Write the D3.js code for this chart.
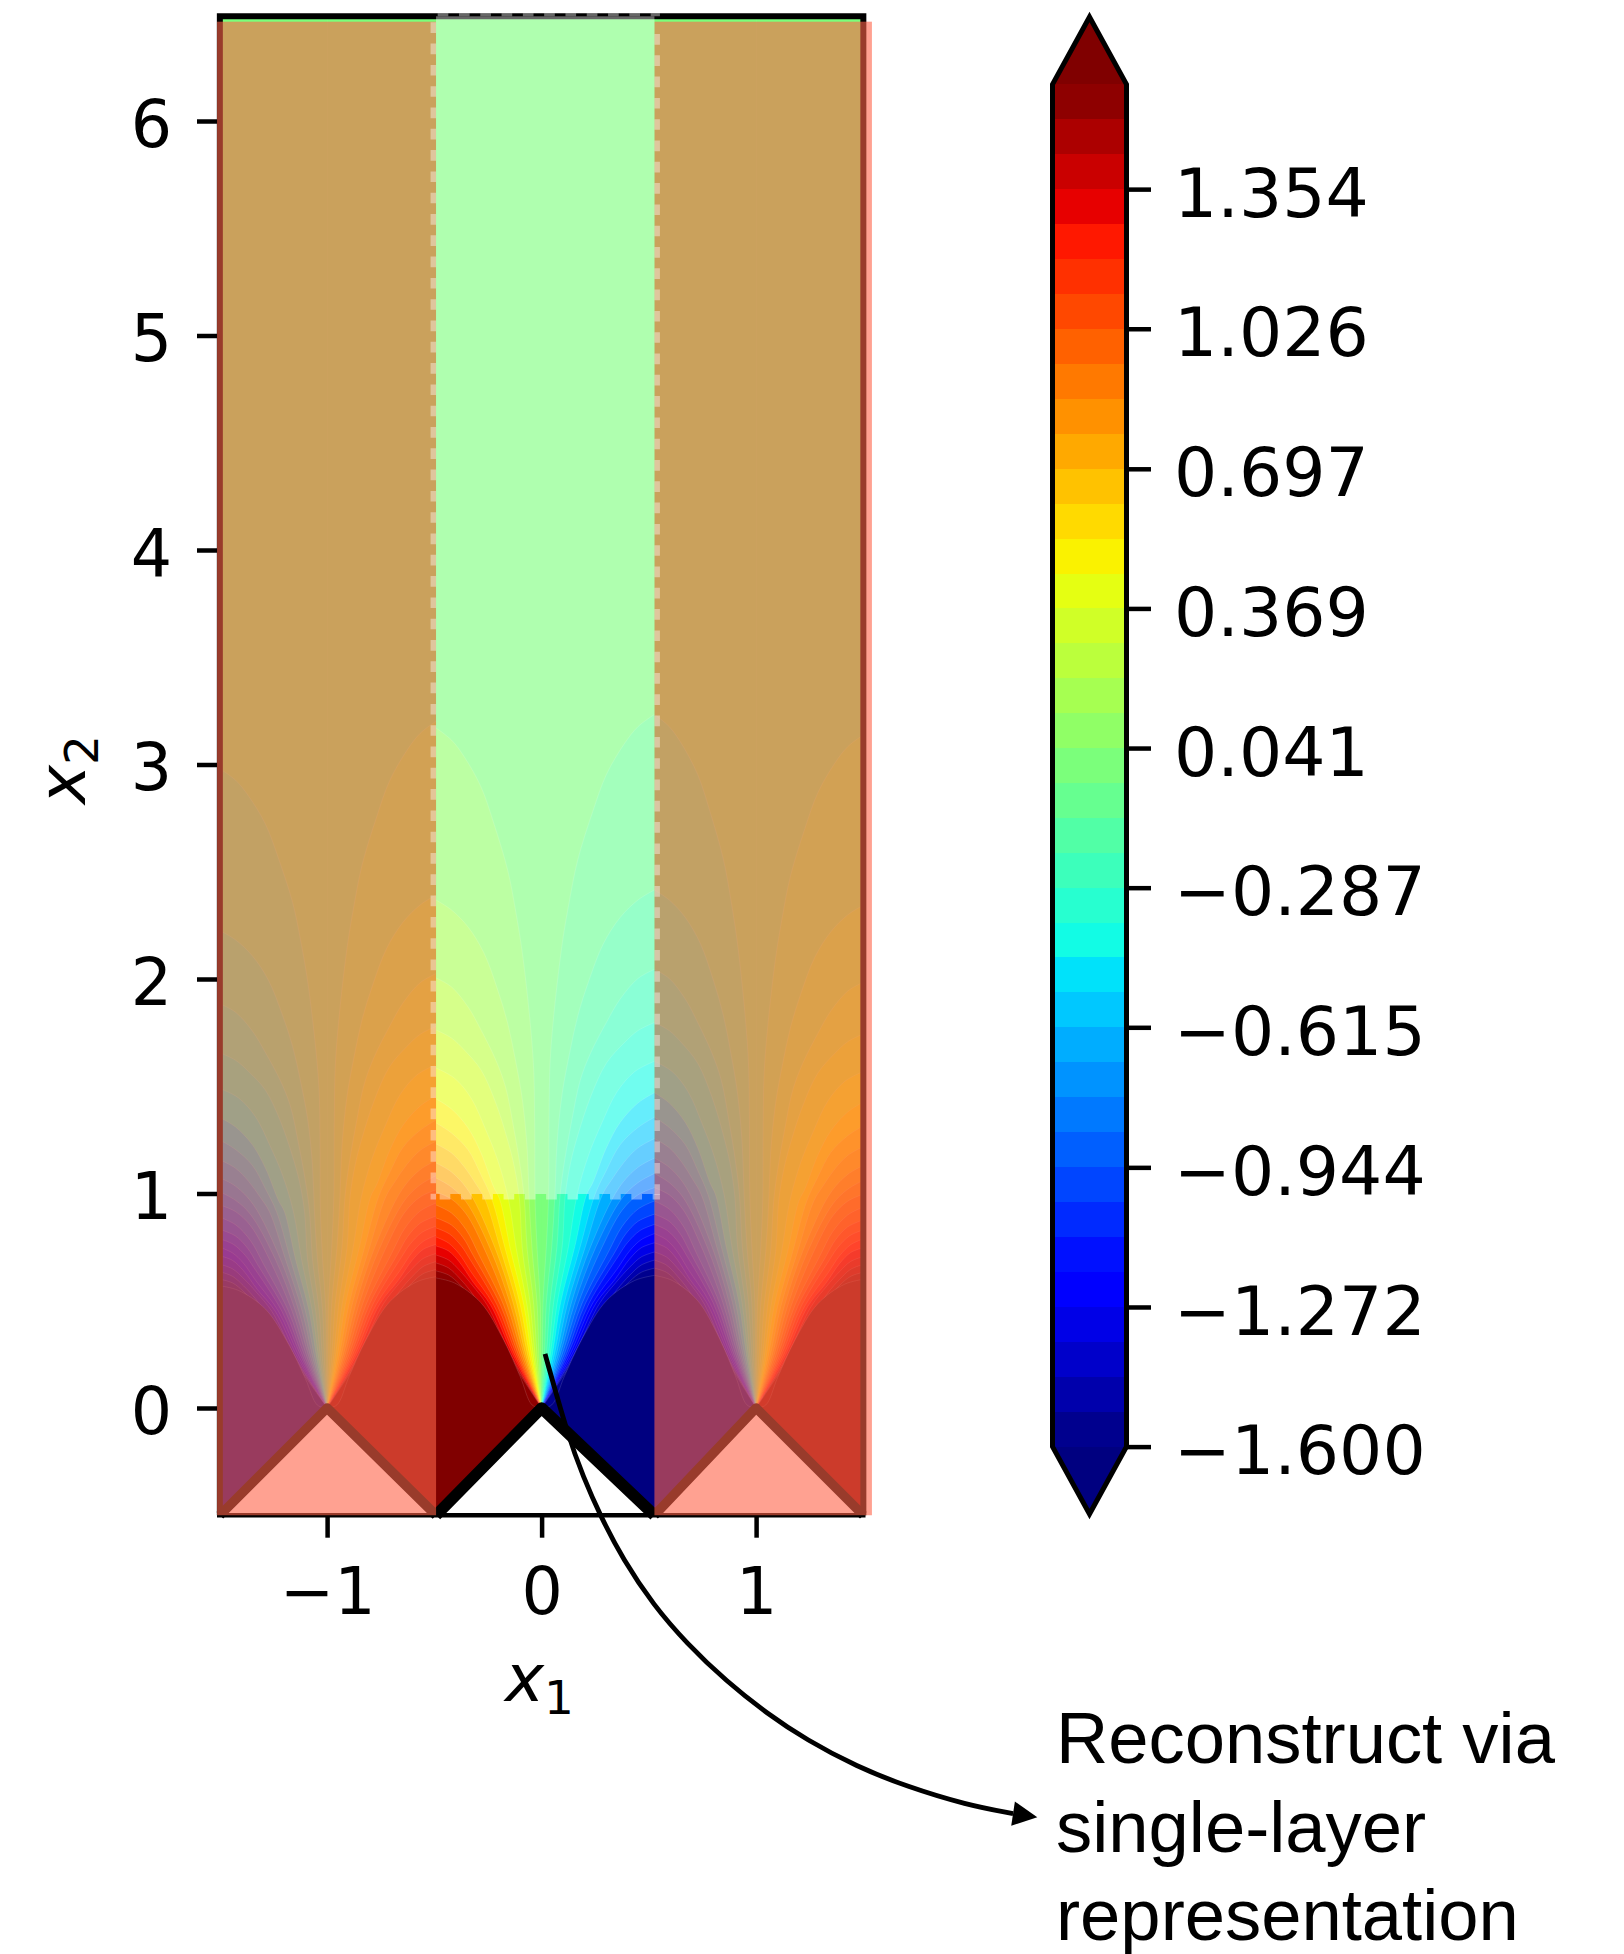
<!DOCTYPE html>
<html>
<head>
<meta charset="utf-8">
<title>Reconstruct via single-layer representation</title>
<script src="https://cdn.jsdelivr.net/npm/d3@7"></script>
<style>
  html, body { margin: 0; padding: 0; background: #fff; }
  svg { display: block; }
  text { font-family: "DejaVu Sans", sans-serif; fill: #000; }
</style>
</head>
<body>
<div id="chart"></div>
<script>
"use strict";

// Contour levels of the field, lowest to highest
var levels = [
  -1.600, -1.518, -1.436, -1.354, -1.272, -1.190, -1.108, -1.026, -0.944, -0.862,
  -0.779, -0.697, -0.615, -0.533, -0.451, -0.369, -0.287, -0.205, -0.123, -0.041,
   0.041,  0.123,  0.205,  0.287,  0.369,  0.451,  0.533,  0.615,  0.697,  0.779,
   0.862,  0.944,  1.026,  1.108,  1.190,  1.272,  1.354,  1.436,  1.518,  1.600
];
var colorbarTicks = [-1.600, -1.272, -0.944, -0.615, -0.287, 0.041, 0.369, 0.697, 1.026, 1.354];
var xTicks = [-1, 0, 1];
var yTicks = [0, 1, 2, 3, 4, 5, 6];
var noteLines = ['Reconstruct via', 'single-layer', 'representation'];

// matplotlib jet, as break points per channel
var jetRed = [[0, 0], [0.35, 0], [0.66, 1], [0.89, 1], [1, 0.5]];
var jetGreen = [[0, 0], [0.125, 0], [0.375, 1], [0.64, 1], [0.91, 0], [1, 0]];
var jetBlue = [[0, 0.5], [0.11, 1], [0.34, 1], [0.65, 0], [1, 0]];

// Pairs are [distance from the apex as a share of half a cell width * 0.5, x2],
// running from the cell edge down to the apex.
var contourArches = [
  [[.500, 3.170], [.427, 3.114], [.366, 3.035], [.287, 2.895], [.227, 2.727], [.161, 2.508], [.124, 2.322], [.087, 2.089], [.040, 1.622], [.033, 1.319], [.031, .974], [.021, .737], [.006, .480], [.004, .247], [0, 0]],
  [[.500, 2.368], [.427, 2.322], [.348, 2.242], [.273, 2.121], [.208, 1.949], [.161, 1.795], [.124, 1.622], [.091, 1.436], [.068, 1.203], [.059, .974], [.045, .737], [.021, .480], [.013, .247], [0, 0]],
  [[.500, 2.005], [.427, 1.963], [.348, 1.869], [.287, 1.762], [.217, 1.622], [.171, 1.497], [.133, 1.310], [.101, 1.124], [.082, .974], [.068, .737], [.037, .480], [.022, .247], [0, 0]],
  [[.500, 1.762], [.427, 1.725], [.366, 1.669], [.287, 1.576], [.217, 1.422], [.161, 1.249], [.129, 1.124], [.105, .974], [.091, .737], [.053, .480], [.031, .247], [0, 0]],
  [[.500, 1.585], [.413, 1.538], [.334, 1.445], [.264, 1.296], [.208, 1.156], [.157, .974], [.119, .737], [.069, .480], [.039, .247], [0, 0]],
  [[.500, 1.441], [.427, 1.394], [.348, 1.305], [.287, 1.189], [.227, 1.030], [.199, .974], [.147, .737], [.084, .480], [.048, .247], [0, 0]],
  [[.500, 1.329], [.427, 1.282], [.348, 1.203], [.287, 1.086], [.236, .974], [.171, .737], [.101, .480], [.057, .247], [0, 0]],
  [[.500, 1.231], [.427, 1.189], [.366, 1.124], [.311, 1.044], [.269, .974], [.194, .737], [.116, .480], [.066, .247], [0, 0]],
  [[.500, 1.142], [.427, 1.100], [.343, 1.007], [.217, .737], [.132, .480], [.075, .247], [0, 0]],
  [[.500, 1.072], [.427, 1.030], [.357, .960], [.241, .737], [.147, .480], [.083, .247], [0, 0]],
  [[.500, 1.007], [.427, .974], [.357, .904], [.269, .737], [.163, .480], [.092, .247], [0, 0]],
  [[.500, .946], [.427, .909], [.357, .830], [.296, .713], [.180, .480], [.101, .247], [0, 0]],
  [[.500, .886], [.427, .853], [.371, .793], [.325, .713], [.195, .480], [.110, .247], [0, 0]],
  [[.500, .839], [.436, .811], [.380, .755], [.343, .699], [.211, .480], [.118, .247], [0, 0]],
  [[.500, .797], [.441, .769], [.390, .718], [.334, .634], [.227, .480], [.127, .247], [0, 0]],
  [[.500, .755], [.441, .732], [.390, .681], [.325, .587], [.242, .480], [.136, .247], [0, 0]],
  [[.500, .713], [.441, .690], [.390, .643], [.329, .573], [.258, .480], [.145, .247], [0, 0]],
  [[.500, .676], [.441, .653], [.390, .606], [.334, .541], [.273, .448], [.153, .247], [0, 0]],
  [[.500, .639], [.441, .620], [.390, .578], [.334, .513], [.287, .443], [.162, .247], [0, 0]],
  [[.500, .606], [.413, .583], [.287, .490], [.180, .317], [.101, .145], [.045, .014], [0, 0]]
];

// The three cells are not quite equal: their edges in x1
var cellEdges = [-1.5, -0.492, 0.526, 1.5];

// The six half cells: apex position, which edge, sign of the field, height stretch
var cellApex = [-1, -1, 0, 0, 1, 1];
var cellEdge = [-1.5, -0.492, -0.492, 0.526, 0.526, 1.5];
var cellSign = [-1, 1, 1, -1, -1, 1];
var cellStretch = [0.94, 1.01, 1, 1.02, 1.02, 0.99];

// Annotation curve in data units
var arrowCurve = [
  [.016, .252], [.124, -.134], [.194, -.320], [.272, -.499], [.381, -.709],
  [.521, -.918], [.676, -1.097], [.863, -1.276], [1.049, -1.423], [1.236, -1.548],
  [1.469, -1.672], [1.702, -1.765], [1.982, -1.851], [2.198, -1.891]
];
var arrowTip = [2.311, -1.908];

var width = 1624;
var height = 1954;

var svg = d3.select('#chart')
  .append('svg')
    .attr('width', width)
    .attr('height', height)
    .attr('viewBox', '0 0 ' + width + ' ' + height);

var x = d3.scaleLinear().domain([-1.5, 1.5]).range([219.85, 863.35]);
var y = d3.scaleLinear().domain([-0.5, 6.5]).range([1515.25, 13.75]);
var domainTop = 6.488;
var overlayTop = 6.463;

var channel = function (stops) {
  return d3.scaleLinear().domain(stops.map(function (d) { return d[0]; })).range(stops.map(function (d) { return d[1]; }));
};
var red = channel(jetRed);
var green = channel(jetGreen);
var blue = channel(jetBlue);

var jet = function (t) {
  return d3.rgb(red(t) * 255, green(t) * 255, blue(t) * 255).formatRgb();
};

var valueToJet = d3.scaleLinear().domain([-1.6, 1.6]).range([0, 1]);
var underColor = jet(0);
var overColor = jet(1);

// Colour of the band between levels[i] and levels[i + 1], extended past both ends
var bandColor = function (i) {
  if (i < 0) return underColor;
  if (i >= levels.length - 1) return overColor;
  return jet(valueToJet((levels[i] + levels[i + 1]) / 2));
};

svg.append('defs').append('clipPath')
    .attr('id', 'field-clip')
  .append('rect')
    .attr('x', x(-1.5))
    .attr('y', y(domainTop))
    .attr('width', x(1.5) - x(-1.5))
    .attr('height', y(-0.5) - y(domainTop));


// Field: each half cell is painted from the outer band inwards

var field = svg.append('g').attr('clip-path', 'url(#field-clip)');

var archLine = d3.line()
  .x(function (d) { return d[0]; })
  .y(function (d) { return d[1]; })
  .curve(d3.curveCatmullRom.alpha(0.5));

var drawHalfCell = function (index) {
  var apex = cellApex[index];
  var edge = cellEdge[index];
  var sign = cellSign[index];
  var stretch = cellStretch[index];
  var spread = (edge - apex) / 0.5;

  field.append('rect')
    .attr('x', Math.min(x(apex), x(edge)))
    .attr('y', y(domainTop))
    .attr('width', Math.abs(x(edge) - x(apex)) + 0.5)
    .attr('height', y(-0.5) - y(domainTop))
    .attr('fill', bandColor(19));

  contourArches.forEach(function (arch, k) {
    var points = arch.map(function (d) {
      return [x(apex + spread * d[0]), y(d[1] * stretch)];
    });
    var corners = ' L' + x(apex) + ',' + y(-0.5) + ' L' + x(edge) + ',' + y(-0.5) + ' Z';
    var band = sign > 0 ? 20 + k : 18 - k;

    field.append('path')
      .attr('d', archLine(points) + corners)
      .attr('fill', bandColor(band));

    field.append('path')
      .attr('d', archLine(points))
      .attr('fill', 'none')
      .attr('stroke', '#fff')
      .attr('stroke-opacity', 0.18)
      .attr('stroke-width', 0.7);
  });
};

d3.range(cellApex.length).forEach(drawHalfCell);


// Domain boundary

var plainLine = d3.line()
  .x(function (d) { return x(d[0]); })
  .y(function (d) { return y(d[1]); });

xTicks.forEach(function (apex, i) {
  var outline = [[cellEdges[i], -0.5], [apex, 0], [cellEdges[i + 1], -0.5]];
  svg.append('path')
    .attr('d', plainLine(outline) + ' Z')
    .attr('fill', '#fff');
  svg.append('path')
    .attr('d', plainLine(outline))
    .attr('fill', 'none')
    .attr('stroke', '#000')
    .attr('stroke-width', apex === 0 ? 11.5 : 9.5)
    .attr('stroke-linejoin', 'round');
});

svg.append('path')
  .attr('d', plainLine([[-1.5, -0.5], [-1.5, domainTop], [1.5, domainTop], [1.5, -0.5]]))
  .attr('fill', 'none')
  .attr('stroke', '#000')
  .attr('stroke-width', 6);

svg.append('line')
  .attr('x1', 217)
  .attr('x2', 865.5)
  .attr('y1', 1515.2)
  .attr('y2', 1515.2)
  .attr('stroke', '#000')
  .attr('stroke-width', 4.6);


// Translucent tomato on the neighbouring cells, white box on the far field

svg.selectAll('rect.overlay')
  .data([[-1.513, cellEdges[1]], [cellEdges[2], 1.54]])
  .enter()
  .append('rect')
    .attr('class', 'overlay')
    .attr('x', function (d) { return x(d[0]); })
    .attr('y', y(overlayTop))
    .attr('width', function (d) { return x(d[1]) - x(d[0]); })
    .attr('height', y(-0.5) - y(overlayTop))
    .attr('fill', 'tomato')
    .attr('fill-opacity', 0.6);

var boxBottom = 0.9977;
svg.append('rect')
  .attr('x', x(cellEdges[1]))
  .attr('y', y(domainTop))
  .attr('width', x(cellEdges[2]) - x(cellEdges[1]))
  .attr('height', y(boxBottom) - y(domainTop))
  .attr('fill', '#fff')
  .attr('fill-opacity', 0.4);

// Only the outer half of the dashed outline shows in the reference
var dashEdge = function (x1, y1, x2, y2, strokeWidth) {
  svg.append('line')
    .attr('x1', x1)
    .attr('y1', y1)
    .attr('x2', x2)
    .attr('y2', y2)
    .attr('stroke', '#fff')
    .attr('stroke-opacity', 0.4)
    .attr('stroke-width', strokeWidth)
    .attr('stroke-dasharray', '10.65 10.65');
};
var boxLeft = x(cellEdges[1]);
var boxRight = x(cellEdges[2]);
dashEdge(boxLeft - 2.75, y(domainTop) + 6, boxLeft - 2.75, y(boxBottom) + 5.5, 5.5);
dashEdge(boxRight + 2.75, y(domainTop) + 17.7, boxRight + 2.75, y(boxBottom) + 5.5, 5.5);
dashEdge(boxLeft + 3.6, y(boxBottom) + 2.75, boxRight + 5.5, y(boxBottom) + 2.75, 5.5);
dashEdge(boxLeft + 1.6, y(domainTop) - 1.5, boxRight + 5.5, y(domainTop) - 1.5, 3);


// Axes

var styleAxis = function (g, fontSize) {
  g.select('.domain').remove();
  g.selectAll('.tick line')
    .attr('stroke', '#000')
    .attr('stroke-width', 4.5);
  g.selectAll('.tick text')
    .attr('fill', '#000')
    .attr('font-family', '"DejaVu Sans", sans-serif')
    .attr('font-size', fontSize);
};

svg.append('g')
  .attr('transform', 'translate(217,0)')
  .call(d3.axisLeft(y).tickValues(yTicks).tickSize(20).tickPadding(25).tickFormat(d3.format('d')))
  .call(styleAxis, 65)
  .selectAll('.tick text')
    .attr('dy', '0.385em');

svg.append('g')
  .attr('transform', 'translate(0,1516.7)')
  .call(d3.axisBottom(x).tickValues(xTicks).tickSize(21).tickPadding(30).tickFormat(d3.format('d')))
  .call(styleAxis, 65);

var xLabel = svg.append('text')
  .attr('x', 505)
  .attr('y', 1701)
  .attr('font-size', 66);
xLabel.append('tspan').attr('font-style', 'italic').text('x');
xLabel.append('tspan').attr('font-size', 47).attr('dy', 13).text('1');

var yLabel = svg.append('text')
  .attr('transform', 'translate(85,804) rotate(-90)')
  .attr('font-size', 66);
yLabel.append('tspan').attr('font-style', 'italic').text('x');
yLabel.append('tspan').attr('font-size', 47).attr('dy', 13).text('2');


// Colorbar

var barLeft = 1052.5;
var barRight = 1126.5;
var barMiddle = (barLeft + barRight) / 2;
var barTip = 67.4;
var barY = d3.scaleLinear().domain([-1.6, 1.6]).range([1446.6, 84.4]);

svg.append('path')
  .attr('d', 'M' + barLeft + ',' + barY(1.6) + ' L' + barMiddle + ',' + (barY(1.6) - barTip) + ' L' + barRight + ',' + barY(1.6) + ' Z')
  .attr('fill', overColor);
svg.append('path')
  .attr('d', 'M' + barLeft + ',' + barY(-1.6) + ' L' + barMiddle + ',' + (barY(-1.6) + barTip) + ' L' + barRight + ',' + barY(-1.6) + ' Z')
  .attr('fill', underColor);

svg.selectAll('rect.band')
  .data(levels.slice(0, -1))
  .enter()
  .append('rect')
    .attr('class', 'band')
    .attr('x', barLeft)
    .attr('width', barRight - barLeft)
    .attr('y', function (d, i) { return barY(levels[i + 1]); })
    .attr('height', function (d, i) { return barY(d) - barY(levels[i + 1]); })
    .attr('fill', function (d, i) { return bandColor(i); })
    .attr('shape-rendering', 'crispEdges');

svg.append('path')
  .attr('d', 'M' + barLeft + ',' + barY(-1.6) +
    ' L' + barLeft + ',' + barY(1.6) +
    ' L' + barMiddle + ',' + (barY(1.6) - barTip) +
    ' L' + barRight + ',' + barY(1.6) +
    ' L' + barRight + ',' + barY(-1.6) +
    ' L' + barMiddle + ',' + (barY(-1.6) + barTip) + ' Z')
  .attr('fill', 'none')
  .attr('stroke', '#000')
  .attr('stroke-width', 5)
  .attr('stroke-miterlimit', 10);

svg.append('g')
  .attr('transform', 'translate(1127,0)')
  .call(d3.axisRight(barY).tickValues(colorbarTicks).tickSize(24).tickPadding(23).tickFormat(d3.format('.3f')))
  .call(styleAxis, 68)
  .selectAll('.tick text')
    .attr('dy', '0.4em');


// Annotation

var arrowLine = d3.line()
  .x(function (d) { return x(d[0]); })
  .y(function (d) { return y(d[1]); })
  .curve(d3.curveBasis);

// curveBasis leaves its end points pinned, so the start is doubled to hold the line on it
svg.append('path')
  .attr('d', arrowLine([arrowCurve[0]].concat(arrowCurve, [arrowCurve[arrowCurve.length - 1]])))
  .attr('fill', 'none')
  .attr('stroke', '#000')
  .attr('stroke-width', 4.8);

// Arrow head sits on the last point, pointing along the last stretch of curve
var last = arrowCurve[arrowCurve.length - 1];
var tipX = x(arrowTip[0]);
var tipY = y(arrowTip[1]);
var baseX = x(last[0]);
var baseY = y(last[1]);
var headLength = Math.hypot(tipX - baseX, tipY - baseY);
var normalX = -(tipY - baseY) / headLength;
var normalY = (tipX - baseX) / headLength;
var headWidth = 12.3;
svg.append('path')
  .attr('d', 'M' + tipX + ',' + tipY +
    ' L' + (baseX + headWidth * normalX) + ',' + (baseY + headWidth * normalY) +
    ' L' + (baseX - headWidth * normalX) + ',' + (baseY - headWidth * normalY) + ' Z')
  .attr('fill', '#000');

svg.selectAll('text.note')
  .data(noteLines)
  .enter()
  .append('text')
    .attr('class', 'note')
    .attr('x', 1056)
    .attr('y', function (d, i) { return 1763 + i * 88.5; })
    .style('font-family', '"Liberation Sans", sans-serif')
    .attr('font-size', 72.4)
    .text(function (d) { return d; });
</script>
</body>
</html>
